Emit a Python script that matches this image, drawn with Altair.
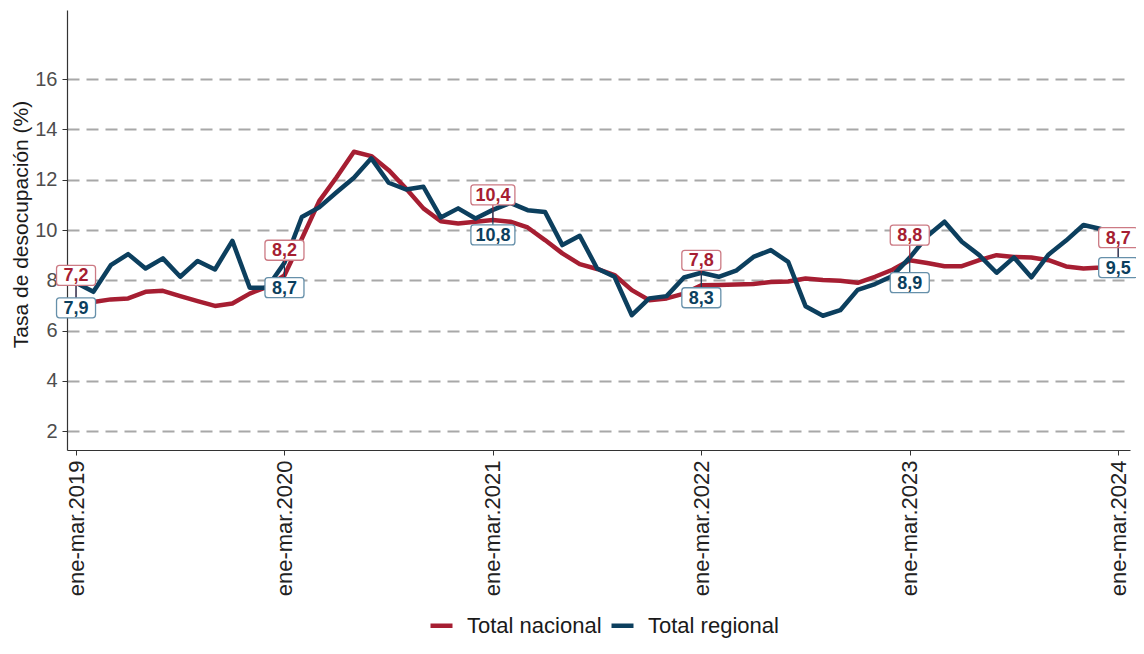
import altair as alt
import pandas as pd

FONT = "Liberation Sans"
RED = "#A61E32"
BLUE = "#0C3F5E"
RED_BOX = "#CC7A84"
BLUE_BOX = "#6690AA"

series_names = ["Total nacional", "Total regional"]

nacional = [7.2, 7.14, 7.24, 7.28, 7.54, 7.58, 7.37, 7.17, 6.98, 7.08, 7.47, 7.74,
            8.2, 9.65, 11.15, 12.1, 13.11, 12.94, 12.38, 11.65, 10.86, 10.35, 10.26, 10.33,
            10.4, 10.33, 10.10, 9.60, 9.07, 8.64, 8.45, 8.21, 7.61, 7.21, 7.28, 7.47,
            7.8, 7.81, 7.83, 7.85, 7.93, 7.95, 8.07, 8.01, 7.98, 7.90, 8.14, 8.42,
            8.8, 8.69, 8.56, 8.56, 8.80, 9.00, 8.93, 8.91, 8.80, 8.55, 8.47, 8.51,
            8.7]

regional = [7.9, 7.54, 8.60, 9.04, 8.47, 8.87, 8.14, 8.77, 8.43, 9.57, 7.70, 7.70,
            8.7, 10.52, 10.9, 11.5, 12.08, 12.85, 11.88, 11.61, 11.72, 10.50, 10.86, 10.46,
            10.8, 11.08, 10.79, 10.72, 9.40, 9.77, 8.47, 8.14, 6.61, 7.28, 7.37, 8.11,
            8.3, 8.14, 8.38, 8.93, 9.20, 8.73, 6.97, 6.59, 6.81, 7.62, 7.85, 8.17,
            8.9, 9.75, 10.33, 9.53, 9.00, 8.30, 8.91, 8.12, 9.03, 9.58, 10.2, 10.04,
            9.5]

tick_idx = [0, 12, 24, 36, 48, 60]
tick_labels = ["ene-mar.2019", "ene-mar.2020", "ene-mar.2021",
               "ene-mar.2022", "ene-mar.2023", "ene-mar.2024"]
y_ticks = [2, 4, 6, 8, 10, 12, 14, 16]

label_idx = [0, 12, 24, 36, 48, 60]
label_nac = ["7,2", "8,2", "10,4", "7,8", "8,8", "8,7"]
label_reg = ["7,9", "8,7", "10,8", "8,3", "8,9", "9,5"]

rows = []
for s, vals in zip(series_names, [nacional, regional]):
    for i, v in enumerate(vals):
        rows.append({"idx": i, "value": v, "serie": s})
df = pd.DataFrame(rows)

lab_rows = []
for i, tn, tr in zip(label_idx, label_nac, label_reg):
    lab_rows.append({"idx": i, "value": nacional[i], "lab": tn, "serie": series_names[0]})
    lab_rows.append({"idx": i, "value": regional[i], "lab": tr, "serie": series_names[1]})
lab_df = pd.DataFrame(lab_rows)

label_expr = "{}[indexof({}, datum.value)]".format(
    "[" + ",".join("'%s'" % t for t in tick_labels) + "]",
    "[" + ",".join(str(t) for t in tick_idx) + "]")

x_scale = alt.Scale(domain=[-0.52, 60.68], nice=False, zero=False)
y_scale = alt.Scale(domain=[1.25, 18.75], nice=False, zero=False)

x_axis = alt.Axis(values=tick_idx, labelExpr=label_expr, labelAngle=-90,
                  labelFont=FONT, labelFontSize=22, labelColor="#222222",
                  labelPadding=5, tickSize=5, tickColor="#333333",
                  domainColor="#333333", domainWidth=1.2, grid=False, title=None)
y_axis = alt.Axis(values=y_ticks, labelFont=FONT, labelFontSize=20,
                  labelColor="#4d4d4d", labelPadding=5, tickSize=5,
                  tickColor="#333333", domainColor="#333333", domainWidth=1.2,
                  grid=True, gridDash=[12, 7], gridColor="#a8a8a8", gridWidth=1.8,
                  title="Tasa de desocupación (%)", titleFont=FONT, titleFontSize=21,
                  titleFontWeight="normal", titleColor="#1a1a1a",
                  titleX=-40, titleY=214, titleBaseline="alphabetic")

x_enc = alt.X("idx:Q", scale=x_scale, axis=x_axis)
y_enc = alt.Y("value:Q", scale=y_scale, axis=y_axis)

lines = alt.Chart(df).mark_line(strokeWidth=4.5, strokeJoin="round").encode(
    x=x_enc, y=y_enc,
    color=alt.Color("serie:N",
                    scale=alt.Scale(domain=series_names, range=[RED, BLUE]),
                    legend=alt.Legend(orient="none", legendX=361, legendY=602,
                                      direction="horizontal", title=None,
                                      symbolType="stroke", symbolStrokeWidth=4.5,
                                      symbolSize=484, labelFont=FONT,
                                      labelFontSize=22, labelColor="#1a1a1a",
                                      labelOffset=12, columnPadding=0, padding=0)),
    detail="serie:N",
)


def label_layers(serie, sign, txt_color, box_color):
    base = alt.Chart(lab_df).transform_filter(alt.datum.serie == serie)
    seg = base.mark_rule(color=txt_color, strokeWidth=1.1,
                         yOffset=sign * 15, y2Offset=0).encode(
        x=x_enc, y=y_enc, y2=alt.Y2("value:Q"))
    boxes = []
    for cond, half in [("length(datum.lab) <= 3", 19.5), ("length(datum.lab) > 3", 22)]:
        boxes.append(base.transform_filter(cond).mark_rect(
            fill="white", stroke=box_color, strokeWidth=1.3, cornerRadius=3,
            xOffset=-half, x2Offset=half,
            yOffset=sign * 25 - 10, y2Offset=sign * 25 + 10).encode(
            x=x_enc, x2=alt.X2("idx:Q"), y=y_enc, y2=alt.Y2("value:Q")))
    txt = base.mark_text(color=txt_color, font=FONT, fontSize=18, fontWeight="bold",
                         dy=sign * 25 + 1, baseline="middle", align="center").encode(
        x=x_enc, y=y_enc, text="lab:N")
    return seg, boxes, txt


r_seg, r_boxes, r_txt = label_layers(series_names[0], -1, RED, RED_BOX)
b_seg, b_boxes, b_txt = label_layers(series_names[1], 1, BLUE, BLUE_BOX)

chart = alt.layer(lines, r_seg, b_seg, *r_boxes, *b_boxes, r_txt, b_txt).properties(
    width=1063, height=440,
    autosize=alt.AutoSizeParams(type="none"),
    padding={"left": 59, "top": 2, "right": 6, "bottom": 188},
).configure_view(stroke=None)

chart.save("out.html", embed_options={"renderer": "svg", "actions": False})
